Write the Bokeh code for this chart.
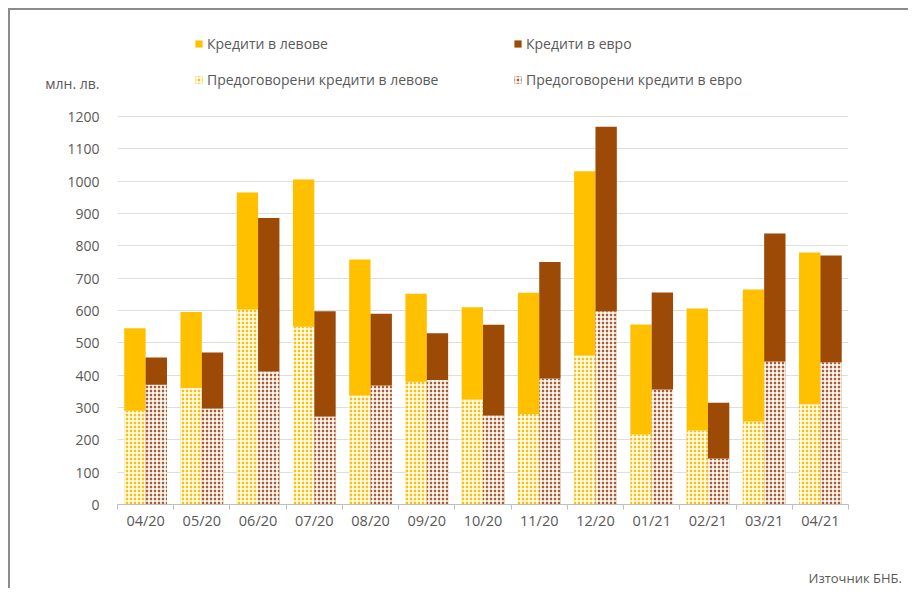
from bokeh.plotting import figure
from bokeh.models import (ColumnDataSource, Range1d, FixedTicker, Legend, LegendItem)
from bokeh.transform import dodge
from bokeh.embed import file_html
from bokeh.resources import INLINE

# ---- data (млн. лв.) ----
months = ["04/20", "05/20", "06/20", "07/20", "08/20", "09/20", "10/20",
          "11/20", "12/20", "01/21", "02/21", "03/21", "04/21"]
lev_restructured = [290, 360, 603, 550, 337, 380, 325, 280, 461, 217, 230, 257, 310]
lev_new = [255, 235, 362, 455, 421, 272, 285, 375, 570, 340, 376, 408, 469]
eur_restructured = [370, 297, 411, 272, 368, 385, 275, 390, 598, 356, 142, 442, 440]
eur_new = [85, 173, 475, 326, 222, 145, 281, 360, 570, 300, 173, 396, 330]
y_ticks = list(range(0, 1201, 100))

label_lev = "Кредити в левове"
label_eur = "Кредити в евро"
label_lev_r = "Предоговорени кредити в левове"
label_eur_r = "Предоговорени кредити в евро"
unit_text = "млн. лв."
source_text = "Източник БНБ."

YELLOW = "#FFC000"
BROWN = "#9C4A06"
YELLOW_H = "#FFC000"
BROWN_H = "#A65E2E"
GREY = "#595959"
FONT = "Open Sans"

# ---- layout (pixels) ----
CANVAS_W, CANVAS_H = 900, 580
FRAME_LEFT, FRAME_RIGHT = 107, 838        # canvas px
FRAME_TOP, FRAME_BOTTOM = 0, 494          # canvas px
AXIS_PX = 388                             # px covered by 0..1200
y_max = y_ticks[-1]
y_top = y_max * (FRAME_BOTTOM - FRAME_TOP) / AXIS_PX
y_unit_pos = y_max * (FRAME_BOTTOM - 73) / AXIS_PX   # where "млн. лв." sits

n = len(months)
idx = list(range(n))
src = ColumnDataSource(dict(idx=idx, month=months, lev_r=lev_restructured, lev_n=lev_new,
                            eur_r=eur_restructured, eur_n=eur_new))

p = figure(x_range=Range1d(-0.5, n - 0.5), y_range=Range1d(0, y_top),
           width=CANVAS_W, height=CANVAS_H, output_backend="svg", toolbar_location=None,
           title=source_text, title_location="below",
           min_border_left=FRAME_LEFT, min_border_top=FRAME_TOP,
           min_border_right=CANVAS_W - FRAME_RIGHT, min_border_bottom=CANVAS_H - FRAME_BOTTOM)
p.styles = {"border-top": "2px solid #8C8C8C", "border-left": "2px solid #8C8C8C",
            "margin-top": "8px", "margin-left": "8px"}
p.outline_line_color = None
p.background_fill_color = "white"
p.border_fill_color = "white"

p.title.align = "left"
p.title.offset = 691
p.title.standoff = 0
p.title.text_font = FONT
p.title.text_font_size = "13px"
p.title.text_font_style = "normal"
p.title.text_color = GREY

W = 0.38
lev = p.vbar_stack(["lev_r", "lev_n"], x=dodge("idx", -W / 2), width=W,
                   source=src, fill_color=[YELLOW_H, YELLOW], line_color=None,
                   hatch_pattern=["cross", " "], hatch_color="white",
                   hatch_scale=4, hatch_weight=1.6)
eur = p.vbar_stack(["eur_r", "eur_n"], x=dodge("idx", W / 2), width=W,
                   source=src, fill_color=[BROWN_H, BROWN], line_color=None,
                   hatch_pattern=["cross", " "], hatch_color="white",
                   hatch_scale=4, hatch_weight=1.6)

# y axis (unit text shown as an extra tick label above the scale)
ya = p.yaxis[0]
ya.ticker = FixedTicker(ticks=y_ticks + [y_unit_pos])
ya.major_label_overrides = {y_unit_pos: unit_text}
ya.major_tick_line_color = None
ya.minor_tick_line_color = None
ya.axis_line_color = None
ya.major_label_text_color = GREY
ya.major_label_text_font = FONT
ya.major_label_text_font_size = "14px"
ya.major_label_standoff = 12
p.ygrid.ticker = FixedTicker(ticks=y_ticks)
p.ygrid.grid_line_color = "#DEDEDE"
p.xgrid.grid_line_color = None

# x axis with category labels and boundary ticks
xa = p.xaxis[0]
xa.ticker = FixedTicker(ticks=idx, minor_ticks=[i - 0.5 for i in range(n + 1)])
xa.major_label_overrides = {i: m for i, m in enumerate(months)}
xa.axis_line_color = "#BFBFBF"
xa.major_tick_line_color = None
xa.minor_tick_line_color = "#BFBFBF"
xa.minor_tick_out = 5
xa.minor_tick_in = 0
xa.major_tick_out = 0
xa.major_label_standoff = 1
xa.major_label_text_color = GREY
xa.major_label_text_font = FONT
xa.major_label_text_font_size = "14.5px"
# blank axis label only reserves room so the source note sits lower
xa.axis_label = " "
xa.axis_label_text_font_size = "14px"
xa.axis_label_standoff = 15

def add_legend(label, renderer, x, y):
    lg = Legend(items=[LegendItem(label=label, renderers=[renderer])],
                location=(x, y), orientation="horizontal",
                border_line_color=None, background_fill_alpha=0,
                padding=0, margin=0, spacing=0,
                glyph_width=9, glyph_height=9, label_height=17,
                label_standoff=4, label_text_color=GREY,
                label_text_font=FONT, label_text_font_size="14px")
    p.add_layout(lg, "center")

add_legend(label_lev, lev[1], 77, 451)
add_legend(label_eur, eur[1], 396, 451)
add_legend(label_lev_r, lev[0], 77, 415)
add_legend(label_eur_r, eur[0], 396, 415)

open("out.html", "w").write(file_html(p, INLINE))
